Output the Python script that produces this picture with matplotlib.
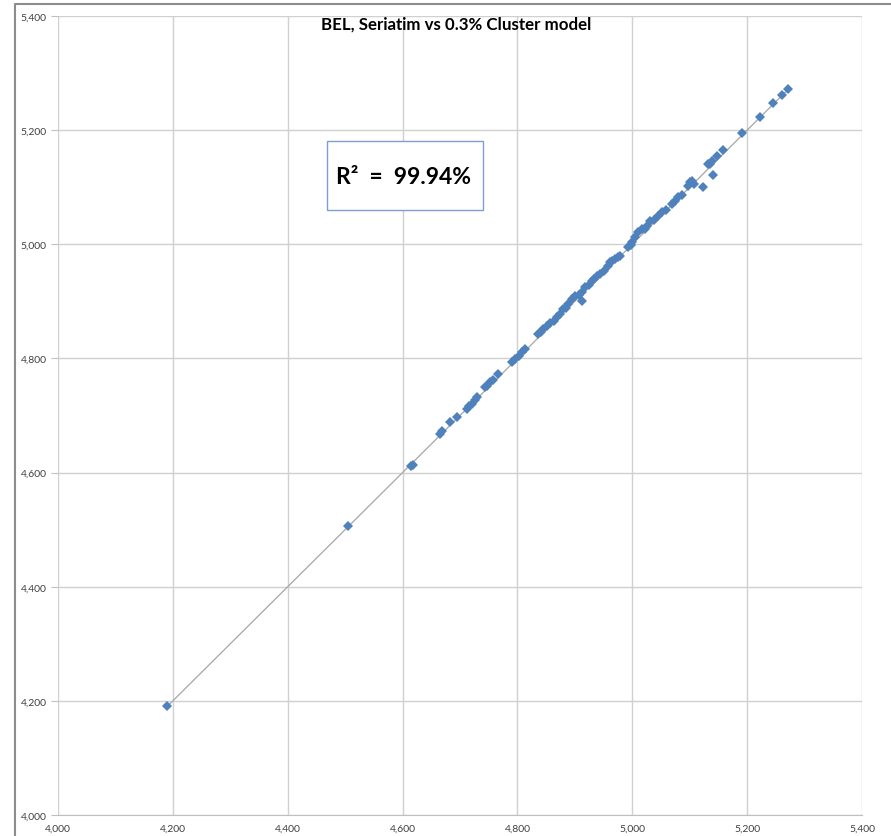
import matplotlib
matplotlib.use("Agg")
import matplotlib.pyplot as plt
from matplotlib.lines import Line2D
from matplotlib.patches import Rectangle
from matplotlib.ticker import FuncFormatter

# Seriatim result (x) vs 0.3% cluster model result (y)
seriatim = [
    4190, 4505, 4615, 4618,
    4665, 4669, 4683, 4695, 4712, 4716, 4721, 4726, 4730,
    4744, 4747, 4752, 4757, 4766, 4790, 4796, 4803, 4808, 4813,
    4836, 4841, 4845, 4851, 4857, 4863, 4869, 4874, 4879, 4884,
    4888, 4895, 4900, 4907, 4912, 4913, 4918, 4925, 4930, 4934,
    4939, 4944, 4950, 4958, 4961, 4965, 4970, 4975, 4979,
    4993, 4997, 5000, 5005, 5010, 5017, 5022, 5026, 5031, 5038,
    5045, 5052, 5058, 5069, 5074, 5080, 5086, 5097, 5100, 5104,
    5107, 5123, 5132, 5135, 5139, 5141, 5148, 5158,
    5191, 5222, 5245, 5261, 5271,
]
cluster = [
    4191, 4506, 4612, 4614,
    4668, 4673, 4689, 4697, 4711, 4716, 4720, 4727, 4732,
    4750, 4752, 4759, 4762, 4773, 4794, 4799, 4805, 4811, 4817,
    4843, 4847, 4852, 4857, 4862, 4866, 4873, 4878, 4887, 4889,
    4895, 4904, 4909, 4912, 4916, 4901, 4925, 4929, 4936, 4939,
    4944, 4948, 4953, 4962, 4969, 4971, 4974, 4978, 4979,
    4995, 4999, 5004, 5012, 5022, 5027, 5027, 5032, 5041, 5043,
    5050, 5057, 5060, 5071, 5076, 5083, 5087, 5102, 5109, 5111,
    5106, 5100, 5141, 5141, 5146, 5121, 5155, 5165,
    5195, 5223, 5248, 5262, 5272,
]
fit_line = [4190, 5272]

title = "BEL, Seriatim vs 0.3% Cluster model"
r2_text = "R\u00b2  =  99.94%"
ticks = [4000, 4200, 4400, 4600, 4800, 5000, 5200, 5400]

plt.rcParams['font.family'] = ['Lato', 'DejaVu Sans']

fig = plt.figure(figsize=(8.91, 8.37), dpi=100)
W, H = 891, 837
ax = fig.add_axes([58 / W, (H - 816) / H, (862 - 58) / W, (816 - 17) / H])

ax.plot(fit_line, fit_line, color='#a6a6a6', lw=0.9, zorder=2)
ax.plot(seriatim, cluster, linestyle='none', marker='D', markersize=5.5,
        color='#4f81bd', markeredgewidth=0, zorder=3)

ax.set_xlim(4000, 5400)
ax.set_ylim(4000, 5400)
ax.set_xticks(ticks)
ax.set_yticks(ticks)
fmt = FuncFormatter(lambda v, p: f"{int(v):,}")
ax.xaxis.set_major_formatter(fmt)
ax.yaxis.set_major_formatter(fmt)
ax.tick_params(axis='x', length=0, pad=6, labelsize=7.5, labelcolor='#404040')
ax.tick_params(axis='y', length=5, width=0.8, color='#bfbfbf', pad=3,
               labelsize=7.5, labelcolor='#404040')
ax.grid(True, color='#d0d0d0', lw=1)
ax.set_axisbelow(True)
for side in ['top', 'right', 'left']:
    ax.spines[side].set_visible(False)
ax.spines['bottom'].set_color('#bfbfbf')

# title and R^2 box
fig.text(456 / W, 1 - 25 / H, title, ha='center', va='center',
         fontsize=12.2, fontweight='bold', color='black')
fig.patches.append(Rectangle((327 / W, 1 - 211 / H), (483 - 327) / W, (211 - 142) / H,
                             transform=fig.transFigure, facecolor='white',
                             edgecolor='#7f9fcf', lw=1, zorder=5))
fig.text(404 / W, 1 - 178 / H, r2_text, ha='center', va='center',
         fontsize=16.5, fontweight='bold', color='black', zorder=6)

# chart area border
fig.lines.append(Line2D([15 / W, 15 / W, 1], [0, 1 - 5 / H, 1 - 5 / H],
                        transform=fig.transFigure, color='#8c8c8c', lw=1.5))

fig.savefig("out.png", dpi=100)
